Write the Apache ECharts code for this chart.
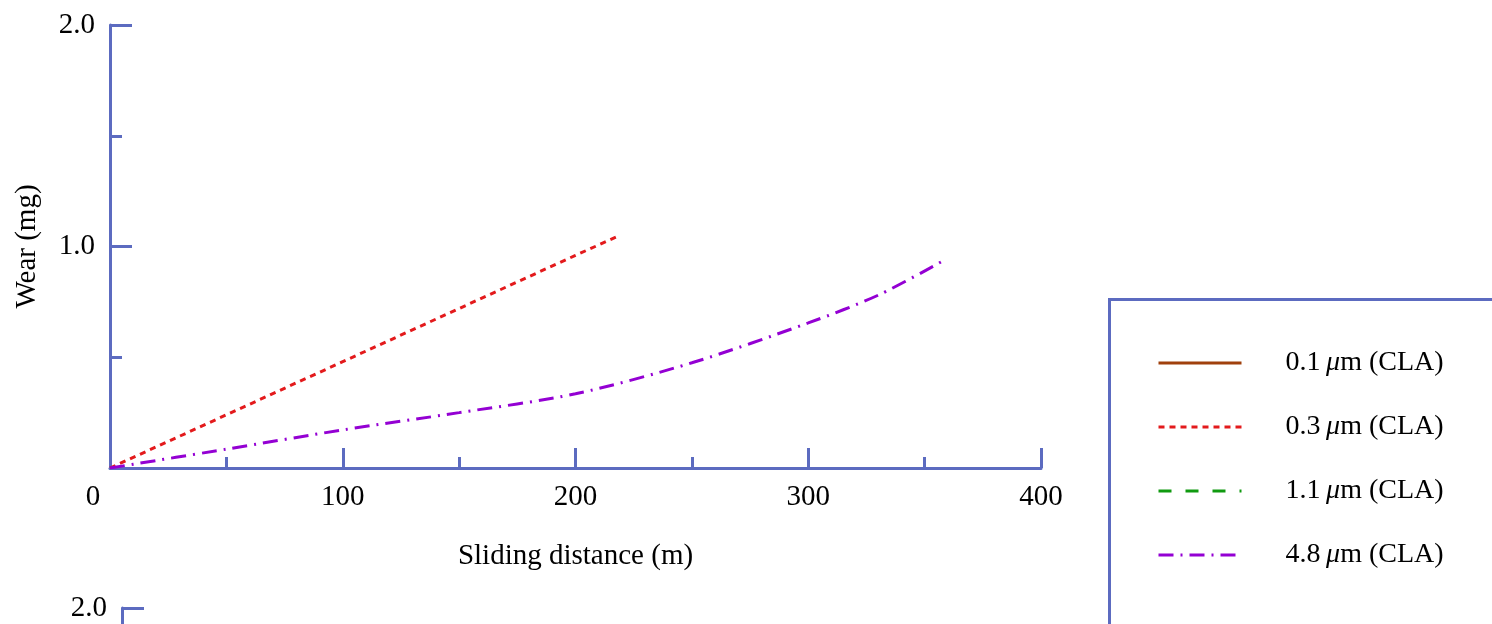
<!DOCTYPE html>
<html>
<head>
<meta charset="utf-8">
<script src="https://cdn.jsdelivr.net/npm/echarts@6/dist/echarts.min.js"></script>
<style>html,body{margin:0;padding:0;background:#fff}#c{width:1492px;height:624px}</style>
</head>
<body>
<div id="c"></div>
<script>
// ---- data ----
const seriesNames = ['0.1 μm (CLA)', '0.3 μm (CLA)', '1.1 μm (CLA)', '4.8 μm (CLA)'];
const s01 = [];
const s03 = [[0, 0], [50, 0.24], [100, 0.48], [150, 0.72], [200, 0.96], [218, 1.045]];
const s11 = [];
const s48 = [[0, 0], [50, 0.085], [100, 0.172], [150, 0.25], [200, 0.335], [250, 0.475], [300, 0.655], [330, 0.78], [357, 0.93]];
const xTicks = [0, 100, 200, 300, 400];
const yTicks = [0, 1.0, 2.0];

const AX = '#5c6bc0';
const FONT = "'Liberation Serif', 'Times New Roman', serif";
const FS = 29;

const chart = echarts.init(document.getElementById('c'));

function xAxisCfg(gridIndex, show) {
  return {
    type: 'value', gridIndex: gridIndex, min: xTicks[0], max: xTicks[xTicks.length - 1], interval: xTicks[1] - xTicks[0],
    name: show ? 'Sliding distance (m)' : '', nameLocation: 'middle', nameGap: 74,
    nameTextStyle: {fontFamily: FONT, fontSize: FS, color: '#000'},
    axisLine: {show: true, lineStyle: {color: AX, width: 3}},
    axisTick: {show: true, inside: true, length: 20, lineStyle: {color: AX, width: 3}},
    minorTick: {show: true, splitNumber: 2, length: 11, lineStyle: {color: AX, width: 3}},
    splitLine: {show: false},
    axisLabel: {
      show: show, margin: 15, fontFamily: FONT, fontSize: FS, color: '#000',
      formatter: function (v) { return v === 0 ? '{z|0}' : String(v); },
      rich: {z: {fontFamily: FONT, fontSize: FS, color: '#000', padding: [0, 34, 0, 0]}}
    }
  };
}
function yAxisCfg(gridIndex, showName) {
  return {
    type: 'value', gridIndex: gridIndex, min: yTicks[0], max: yTicks[yTicks.length - 1], interval: yTicks[1] - yTicks[0],
    name: showName ? 'Wear (mg)' : '', nameLocation: 'middle', nameGap: 68, nameRotate: 90,
    nameTextStyle: {fontFamily: FONT, fontSize: FS, color: '#000'},
    axisLine: {show: true, lineStyle: {color: AX, width: 3}},
    axisTick: {show: true, inside: true, length: 22, lineStyle: {color: AX, width: 3}},
    minorTick: {show: true, splitNumber: 2, length: 12, lineStyle: {color: AX, width: 3}},
    splitLine: {show: false},
    axisLabel: {
      margin: 15, fontFamily: FONT, fontSize: FS, color: '#000',
      formatter: function (v) { return v === 0 ? '' : v.toFixed(1); }
    }
  };
}

const option = {
  animation: false,
  backgroundColor: '#fff',
  grid: [
    {left: 110, top: 25, width: 931, height: 443, containLabel: false},
    {left: 122, top: 608, width: 931, height: 443, containLabel: false}
  ],
  xAxis: [xAxisCfg(0, true), xAxisCfg(1, false)],
  yAxis: [yAxisCfg(0, true), yAxisCfg(1, false)],
  legend: {
    orient: 'vertical', left: 1157, top: 348, padding: 0,
    itemWidth: 83, itemHeight: 14, itemGap: 34,
    itemStyle: {opacity: 0},
    lineStyle: {width: 3},
    data: seriesNames,
    formatter: function (name) { return name.replace(' μ', '\u2009{i|μ}'); },
    textStyle: {
      fontFamily: FONT, fontSize: 28, color: '#000', lineHeight: 30, padding: [0, 0, 0, 39],
      rich: {i: {fontFamily: FONT, fontSize: 28, fontStyle: 'italic', color: '#000', lineHeight: 30}}
    }
  },
  graphic: [{
    type: 'rect', silent: true, z: 0,
    shape: {x: 1109.5, y: 299.5, width: 600, height: 600},
    style: {fill: 'none', stroke: AX, lineWidth: 3}
  }],
  series: [
    {name: seriesNames[0], type: 'line', xAxisIndex: 0, yAxisIndex: 0, data: s01, symbol: 'none',
      lineStyle: {color: '#a0400c', width: 3, type: 'solid'}, itemStyle: {color: '#a0400c'}},
    {name: seriesNames[1], type: 'line', xAxisIndex: 0, yAxisIndex: 0, data: s03, symbol: 'none',
      lineStyle: {color: '#e31a1c', width: 3, type: [6, 5]}, itemStyle: {color: '#e31a1c'}},
    {name: seriesNames[2], type: 'line', xAxisIndex: 0, yAxisIndex: 0, data: s11, symbol: 'none',
      lineStyle: {color: '#109a10', width: 3, type: [13, 14]}, itemStyle: {color: '#109a10'}},
    {name: seriesNames[3], type: 'line', xAxisIndex: 0, yAxisIndex: 0, data: s48, symbol: 'none', smooth: 0.3,
      lineStyle: {color: '#9400d3', width: 3, type: [15, 7, 2, 7]}, itemStyle: {color: '#9400d3'}}
  ]
};
chart.setOption(option);
</script>
</body>
</html>
